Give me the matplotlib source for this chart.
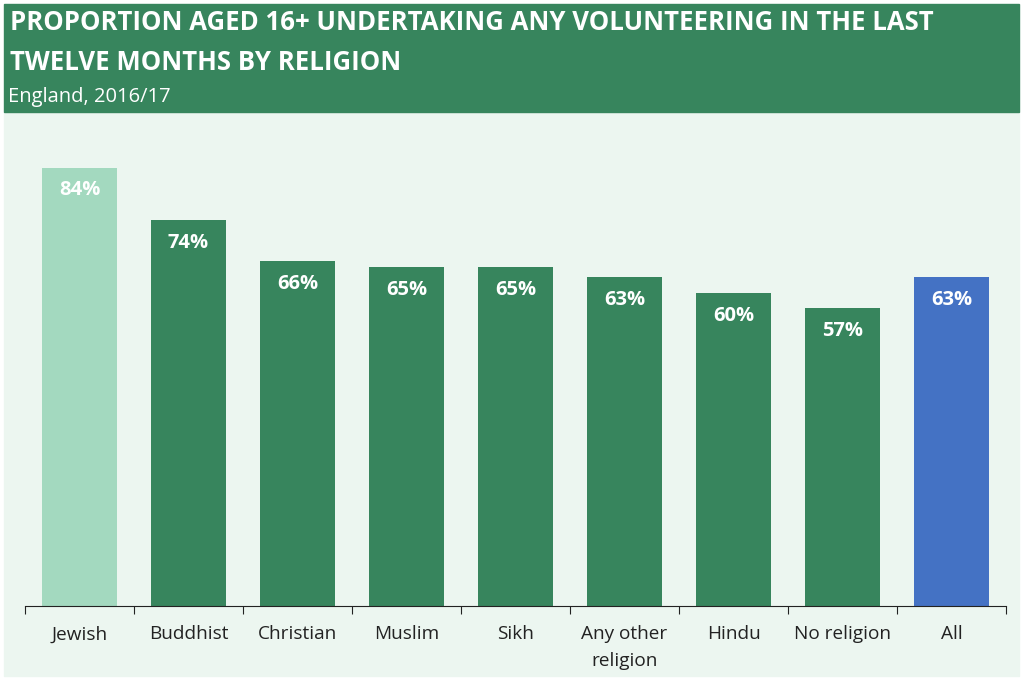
import matplotlib.pyplot as plt

plt.rcParams['font.family'] = ['Open Sans', 'DejaVu Sans']

categories = ['Jewish', 'Buddhist', 'Christian', 'Muslim', 'Sikh',
              'Any other\nreligion', 'Hindu', 'No religion', 'All']
values = [84, 74, 66, 65, 65, 63, 60, 57, 63]
bar_colors = ['#A3D9BF'] + ['#37855D'] * 7 + ['#4472C4']

W, H = 1021, 680
fig = plt.figure(figsize=(W / 100, H / 100), dpi=100)
fig.patch.set_facecolor('white')

# background panels (behind the axes)
fig.patches.append(plt.Rectangle((4 / W, 1 - 676 / H), 1015 / W, 564 / H,
                                 transform=fig.transFigure, color='#ECF6F0', zorder=-2))
fig.patches.append(plt.Rectangle((4 / W, 1 - 112 / H), 1015 / W, 108 / H,
                                 transform=fig.transFigure, color='#37855D', zorder=-2))

fig.text(10 / W, 1 - 22 / H, 'PROPORTION AGED 16+ UNDERTAKING ANY VOLUNTEERING IN THE LAST',
         color='white', fontsize=18.5, fontweight='bold', va='center')
fig.text(10 / W, 1 - 62 / H, 'TWELVE MONTHS BY RELIGION',
         color='white', fontsize=18.5, fontweight='bold', va='center')
fig.text(8 / W, 1 - 97 / H, 'England, 2016/17', color='white', fontsize=14.5, va='center')

ax = fig.add_axes([25 / W, 1 - 606 / H, 981 / W, 476 / H])
ax.set_facecolor('none')
x = range(len(categories))
bars = ax.bar(x, values, width=0.68, color=bar_colors, zorder=2)
ax.set_xlim(-0.5, len(categories) - 0.5)
ax.set_ylim(0, 476 / 5.22)

for b, v in zip(bars, values):
    ax.text(b.get_x() + b.get_width() / 2, v - 4.4, f'{v}%', ha='center', va='center',
            color='white', fontsize=14.5, fontweight='bold')

for s in ['top', 'right', 'left']:
    ax.spines[s].set_visible(False)
ax.spines['bottom'].set_color('#222222')
ax.set_yticks([])
ax.set_xticks([i - 0.5 for i in range(len(categories) + 1)], minor=False)
ax.set_xticklabels([])
ax.tick_params(axis='x', length=6, color='#222222', direction='out')
ax.set_xticks(list(x), minor=True)
ax.set_xticklabels(categories, minor=True, fontsize=13.7, color='#222222')
ax.tick_params(axis='x', which='minor', length=0, pad=14)
for lbl in ax.get_xticklabels(minor=True):
    lbl.set_linespacing(1.6)

fig.savefig('out.png', dpi=100, facecolor='white')
